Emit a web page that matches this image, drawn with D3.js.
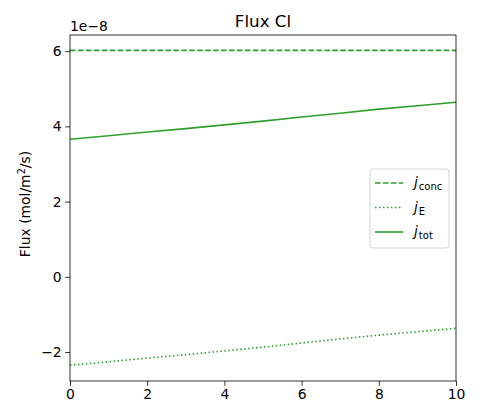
<!DOCTYPE html>
<html><head><meta charset="utf-8">
<script src="https://cdn.jsdelivr.net/npm/d3@7"></script>
<style>body{margin:0;background:#fff;} text{font-family:"DejaVu Sans",sans-serif;}</style>
</head><body>
<svg id="c" width="480" height="420"></svg>
<script>
const xs = [0,1,2,3,4,5,6,7,8,9,10];
const jConc = [6.02,6.02,6.02,6.02,6.02,6.02,6.02,6.02,6.02,6.02,6.02];
const jE = [-2.35,-2.26,-2.16,-2.07,-1.97,-1.87,-1.76,-1.65,-1.55,-1.46,-1.37];
const jTot = [3.66,3.75,3.85,3.94,4.04,4.14,4.25,4.35,4.46,4.55,4.64];
const xTicks = [0,2,4,6,8,10];
const yTicks = [-2,0,2,4,6];
const seriesNames = ["conc","E","tot"];

const svg = d3.select("#c");
const L=70,R=456,T=35,B=381;
const x = d3.scaleLinear().domain([0,10]).range([L,R]);
const y = d3.scaleLinear().domain([-2.77,6.43]).range([B,T]);
const green = "#2ca02c";

const line = d3.line().x((d,i)=>x(xs[i])).y(d=>y(d));
const styles = [
  {data:jConc, dash:"5.55,2.4"},
  {data:jE, dash:"1.5,2.475"},
  {data:jTot, dash:null}
];
const g = svg.append("g");
styles.forEach(s=>{
  g.append("path").attr("d",line(s.data)).attr("fill","none")
   .attr("stroke",green).attr("stroke-width",1.6)
   .attr("stroke-dasharray",s.dash);
});

const xa = svg.append("g").attr("transform",`translate(0,${B})`)
  .call(d3.axisBottom(x).tickValues(xTicks).tickSize(4.86).tickPadding(3.5).tickFormat(d3.format("d")));
const ya = svg.append("g").attr("transform",`translate(${L},0)`)
  .call(d3.axisLeft(y).tickValues(yTicks).tickSize(4.86).tickPadding(3.5).tickFormat(d=>d<0?"\u2212"+Math.abs(d):d));
[xa,ya].forEach(a=>{
  a.select(".domain").remove();
  a.selectAll("line").attr("stroke","#000").attr("stroke-width",0.8);
  a.selectAll("text").attr("font-size","13.9px").attr("fill","#000").attr("font-family","DejaVu Sans");
});
svg.append("rect").attr("x",L).attr("y",T).attr("width",R-L).attr("height",B-T)
  .attr("fill","none").attr("stroke","#000").attr("stroke-width",0.8);

svg.append("text").attr("x",(L+R)/2).attr("y",27).attr("text-anchor","middle")
  .attr("font-size","16.7px").text("Flux Cl");
svg.append("text").attr("x",L).attr("y",31).attr("font-size","13.9px").text("1e\u22128");
const yl = svg.append("text").attr("transform",`translate(30,${(T+B)/2 - 4}) rotate(-90)`)
  .attr("text-anchor","middle").attr("font-size","13.9px");
yl.append("tspan").text("Flux (mol/m");
yl.append("tspan").attr("font-size","9.7px").attr("dy",-5).text("2");
yl.append("tspan").attr("dy",5).text("/s)");

// legend
const lg = svg.append("g");
lg.append("rect").attr("x",370).attr("y",169).attr("width",79).attr("height",79).attr("rx",3)
  .attr("fill","#fff").attr("fill-opacity",0.8).attr("stroke","#cccccc").attr("stroke-width",0.8);
seriesNames.forEach((n,i)=>{
  const yy = 183 + i*24.5;
  lg.append("line").attr("x1",375).attr("x2",403).attr("y1",yy).attr("y2",yy)
    .attr("stroke",green).attr("stroke-width",1.6).attr("stroke-dasharray",styles[i].dash);
  const t = lg.append("text").attr("x",414).attr("y",yy+4).attr("font-size","13.9px");
  t.append("tspan").attr("font-style","italic").text("j");
  t.append("tspan").attr("font-size","10px").attr("dy",3).attr("dx",1).text(n);
});
</script>
</body></html>
